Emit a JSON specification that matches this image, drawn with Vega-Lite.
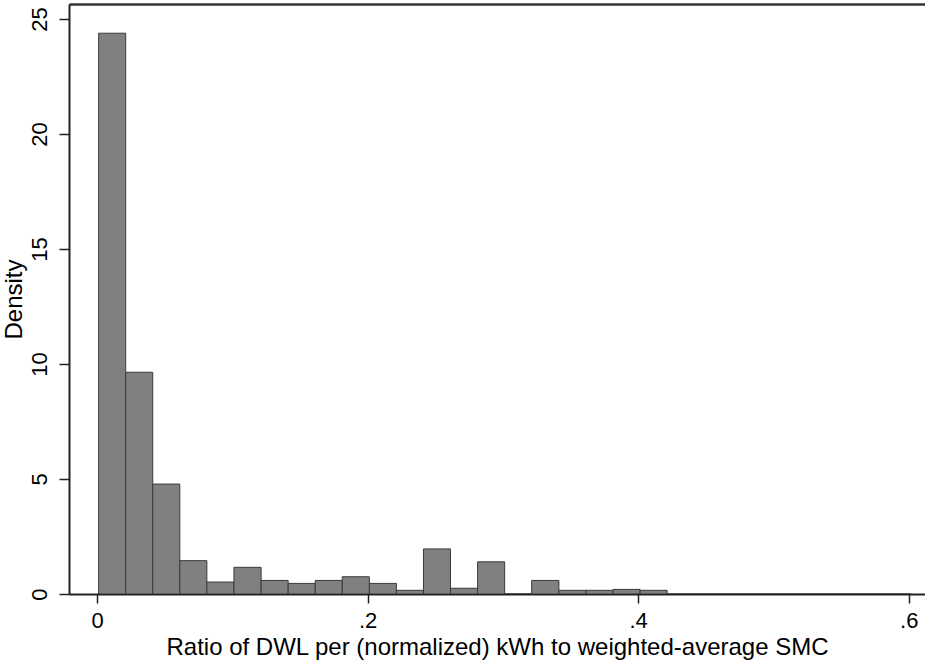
{
  "$schema": "https://vega.github.io/schema/vega-lite/v6.json",
  "width": 856,
  "height": 590,
  "autosize": {"type": "none"},
  "padding": {"left": 69, "top": 4, "right": 0, "bottom": 68},
  "background": "white",
  "config": {
    "view": {"stroke": null},
    "font": "Liberation Sans",
    "axis": {
      "labelFont": "Liberation Sans",
      "titleFont": "Liberation Sans",
      "labelColor": "#000",
      "titleColor": "#000",
      "domainColor": "#222",
      "tickColor": "#222",
      "grid": false
    }
  },
  "data": {
    "values": [
      {"x0": 0.0012, "x1": 0.0212, "density": 24.38},
      {"x0": 0.0212, "x1": 0.0412, "density": 9.64},
      {"x0": 0.0412, "x1": 0.0612, "density": 4.78},
      {"x0": 0.0612, "x1": 0.0812, "density": 1.45},
      {"x0": 0.0812, "x1": 0.1012, "density": 0.52},
      {"x0": 0.1012, "x1": 0.1213, "density": 1.16},
      {"x0": 0.1213, "x1": 0.1413, "density": 0.59},
      {"x0": 0.1413, "x1": 0.1613, "density": 0.46},
      {"x0": 0.1613, "x1": 0.1813, "density": 0.59},
      {"x0": 0.1813, "x1": 0.2013, "density": 0.75},
      {"x0": 0.2013, "x1": 0.2213, "density": 0.46},
      {"x0": 0.2213, "x1": 0.2413, "density": 0.16},
      {"x0": 0.2413, "x1": 0.2613, "density": 1.96},
      {"x0": 0.2613, "x1": 0.2813, "density": 0.25},
      {"x0": 0.2813, "x1": 0.3013, "density": 1.40},
      {"x0": 0.3013, "x1": 0.3213, "density": 0},
      {"x0": 0.3213, "x1": 0.3414, "density": 0.59},
      {"x0": 0.3414, "x1": 0.3614, "density": 0.16},
      {"x0": 0.3614, "x1": 0.3814, "density": 0.16},
      {"x0": 0.3814, "x1": 0.4014, "density": 0.20},
      {"x0": 0.4014, "x1": 0.4214, "density": 0.16},
      {"x0": 0.4214, "x1": 0.4414, "density": 0},
      {"x0": 0.4414, "x1": 0.4614, "density": 0},
      {"x0": 0.4614, "x1": 0.4814, "density": 0},
      {"x0": 0.4814, "x1": 0.5014, "density": 0},
      {"x0": 0.5014, "x1": 0.5214, "density": 0},
      {"x0": 0.5214, "x1": 0.5415, "density": 0},
      {"x0": 0.5415, "x1": 0.5615, "density": 0},
      {"x0": 0.5615, "x1": 0.5815, "density": 0},
      {"x0": 0.5815, "x1": 0.6015, "density": 0}
    ]
  },
  "layer": [
    {
      "mark": {"type": "bar", "fill": "#808080", "stroke": "#3a3a3a", "strokeWidth": 1, "clip": true},
      "encoding": {
        "x": {
          "field": "x0",
          "type": "quantitative",
          "scale": {"domain": [-0.0207, 0.612], "nice": false, "zero": false},
          "axis": {
            "orient": "bottom",
            "values": [0, 0.2, 0.4, 0.6],
            "labelExpr": "datum.value == 0 ? '0' : replace(format(datum.value, '.1f'), '0.', '.')",
            "labelFontSize": 22,
            "labelPadding": 7,
            "tickSize": 9,
            "tickWidth": 1.5,
            "domainWidth": 2,
            "title": "Ratio of DWL per (normalized) kWh to weighted-average SMC",
            "titleFontSize": 24,
            "titleFontWeight": "normal",
            "titlePadding": 4
          }
        },
        "x2": {"field": "x1"},
        "y": {
          "field": "density",
          "type": "quantitative",
          "scale": {"domain": [0, 25.65], "nice": false},
          "axis": {
            "values": [0, 5, 10, 15, 20, 25],
            "labelAngle": -90,
            "labelAlign": "center",
            "labelBaseline": "bottom",
            "labelFontSize": 22,
            "labelPadding": 8,
            "tickSize": 10,
            "tickWidth": 1.5,
            "domainWidth": 2,
            "title": "Density",
            "titleFontSize": 24,
            "titleFontWeight": "normal",
            "titlePadding": 2
          }
        },
        "y2": {"datum": 0}
      }
    },
    {
      "mark": {"type": "bar", "opacity": 0},
      "encoding": {
        "x": {
          "field": "x0",
          "type": "quantitative",
          "axis": {"orient": "top", "labels": false, "ticks": false, "title": null, "domainWidth": 2.5, "domainColor": "#333"}
        },
        "x2": {"field": "x1"},
        "y": {"field": "density", "type": "quantitative"},
        "y2": {"datum": 0}
      }
    }
  ],
  "resolve": {"axis": {"x": "independent"}}
}
